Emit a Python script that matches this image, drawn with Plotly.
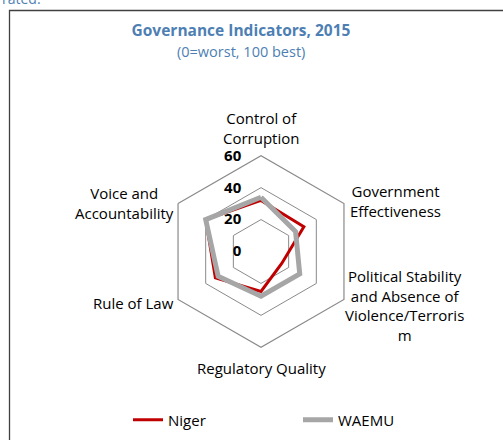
import math
import plotly.graph_objects as go

categories = ["Control of Corruption", "Government Effectiveness",
              "Political Stability and Absence of Violence/Terrorism",
              "Regulatory Quality", "Rule of Law", "Voice and Accountability"]
category_labels = ["Control of<br>Corruption", "Government<br>Effectiveness",
                   "Political Stability<br>and Absence of<br>Violence/Terroris<br>m",
                   "Regulatory Quality", "Rule of Law", "Voice and<br>Accountability"]
niger = [32, 31, 15, 25, 33, 40]
waemu = [34, 25, 28, 28, 31, 40]
radial_ticks = [0, 20, 40, 60]

W, H = 503, 440
cx, cy, R = 261, 251.5, 95.8

def closed(v):
    return v + v[:1]

fig = go.Figure()
fig.add_trace(go.Scatterpolar(r=closed(niger), theta=closed(categories), name="Niger",
                              mode="lines", line=dict(color="#C00000", width=3)))
fig.add_trace(go.Scatterpolar(r=closed(waemu), theta=closed(categories), name="WAEMU",
                              mode="lines", line=dict(color="#A6A6A6", width=5)))

font = "Open Sans, Noto Sans, sans-serif"
blue = "#4E7FB3"

# category labels placed around the hexagon, just outside each vertex
label_specs = [  # (extra offset px along the spoke, xanchor, yanchor, dx, dy)
    (6, "center", "bottom", 0, 0),
    (5, "left", "middle", 0, 0),
    (5, "left", "middle", -5, 4),
    (9, "center", "top", 0, 0),
    (2, "right", "middle", 0, 3),
    (2, "right", "middle", 0, 0),
]
annotations = []
n = len(categories)
for i, (lab, spec) in enumerate(zip(category_labels, label_specs)):
    off, xa, ya, dx, dy = spec
    ang = math.radians(90 - 360 * i / n)
    px = cx + (R + off) * math.cos(ang) + dx
    py = cy - (R + off) * math.sin(ang) + dy
    annotations.append(dict(text=lab, xref="paper", yref="paper", x=px / W, y=1 - py / H,
                            xanchor=xa, yanchor=ya, align="center", showarrow=False,
                            font=dict(size=15, color="#000000", family=font)))

annotations += [
    dict(text="rated.", xref="paper", yref="paper", x=0, y=1 - 10 / H,
         xanchor="left", yanchor="bottom", showarrow=False,
         font=dict(size=14, color=blue, family=font)),
    dict(text="(0=worst, 100 best)", xref="paper", yref="paper", x=241 / W, y=1 - 52 / H,
         xanchor="center", yanchor="middle", showarrow=False,
         font=dict(size=14.5, color=blue, family=font)),
]

fig.update_layout(
    width=W, height=H,
    margin=dict(l=0, r=0, t=0, b=0, autoexpand=False),
    paper_bgcolor="white",
    font=dict(family=font, size=14, color="#000000"),
    polar=dict(
        domain=dict(x=[(cx - R) / W, (cx + R) / W], y=[(H - cy - R) / H, (H - cy + R) / H]),
        bgcolor="white",
        gridshape="linear",
        radialaxis=dict(range=[0, 60], tickvals=radial_ticks, angle=90, tickangle=90,
                        side="counterclockwise", showline=False,
                        ticks="outside", ticklen=14, tickcolor="rgba(0,0,0,0)",
                        gridcolor="#8A8A8A", gridwidth=1.2,
                        tickfont=dict(size=15, color="black", family=font, weight="bold")),
        angularaxis=dict(rotation=90, direction="clockwise", showgrid=False,
                         showticklabels=False,
                         linecolor="#8A8A8A", linewidth=1.2, ticks=""),
    ),
    showlegend=True,
    legend=dict(orientation="h", x=128 / W, y=1 - 420 / H, xanchor="left", yanchor="middle",
                entrywidth=125, font=dict(size=15, family=font)),
    title=dict(text="<b>Governance Indicators, 2015</b>", x=241 / W, xanchor="center",
               y=1 - 31 / H, yanchor="middle", font=dict(size=15.5, color=blue, family=font)),
    annotations=annotations,
    shapes=[dict(type="rect", xref="paper", yref="paper", x0=9.5 / W, x1=1.05,
                 y0=-0.05, y1=1 - 10.5 / H, line=dict(color="#404040", width=1.3))],
)
fig.write_html("out.html", config={"displayModeBar": False},
               post_script="document.body.style.margin='0';")
